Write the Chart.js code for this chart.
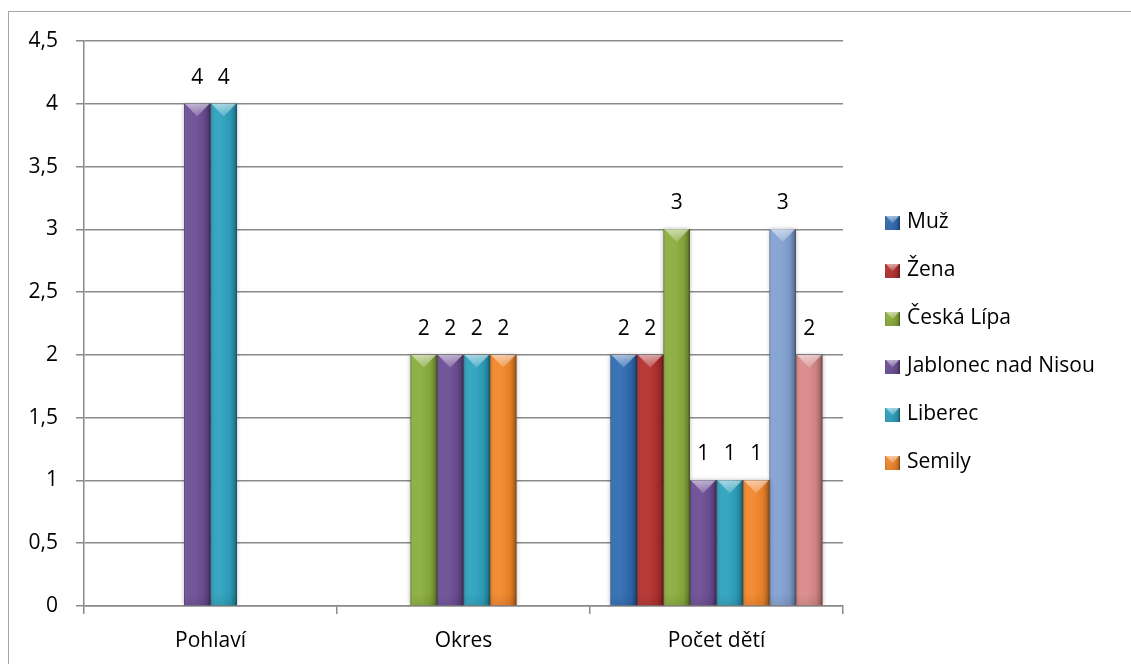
<!DOCTYPE html>
<html lang="cs">
<head>
<meta charset="utf-8">
<title>Graf</title>
<script src="https://cdn.jsdelivr.net/npm/chart.js@4.4.1/dist/chart.umd.min.js"></script>
<style>
  html, body { margin: 0; padding: 0; background: #ffffff; overflow: hidden; }
  #wrap { position: relative; width: 1131px; height: 664px; }
</style>
</head>
<body>
<div id="wrap"><canvas id="graf"></canvas></div>
<script>
// Kategorie na ose X
const kategorie = ['Pohlaví', 'Okres', 'Počet dětí'];

// Hodnoty jednotlivých řad (null = řada v kategorii nemá hodnotu)
const muz       = [null, null, 2];
const zena      = [null, null, 2];
const ceskaLipa = [null, 2, 3];
const jablonec  = [4, 2, 1];
const liberec   = [4, 2, 1];
const semily    = [null, 2, 1];
const rada7     = [null, null, 3];
const rada8     = [null, null, 2];

// Popisky řad v legendě (prázdný popisek se v legendě nezobrazí)
const nazvyRad = ['Muž', 'Žena', 'Česká Lípa', 'Jablonec nad Nisou', 'Liberec', 'Semily', '', ''];
const hodnotyRad = [muz, zena, ceskaLipa, jablonec, liberec, semily, rada7, rada8];
const barvyRad = ['#2f6cb2', '#b5302f', '#8aad3c', '#6d4e96', '#2da2bf', '#f2862a', '#82a1d2', '#d98a89'];

// Osa Y
const osaYMin = 0;
const osaYMax = 4.5;
const osaYKrok = 0.5;

const PISMO = '"Open Sans", "Noto Sans", sans-serif';
const VELIKOST = 21;
const SEDA = '#8a8a8a';

const formatCislo = v => String(v).replace('.', ',');

// Stínování sloupce: boční přechod, tmavší okraje a světlejší horní zkosení
function zkoseni(ctx, left, top, right, bottom) {
  const w = right - left;
  const h = bottom - top;
  if (w <= 0 || h <= 0) return;
  ctx.save();
  const g = ctx.createLinearGradient(left, 0, right, 0);
  g.addColorStop(0, 'rgba(0,0,0,0.35)');
  g.addColorStop(0.08, 'rgba(255,255,255,0.05)');
  g.addColorStop(0.4, 'rgba(255,255,255,0.05)');
  g.addColorStop(0.75, 'rgba(0,0,0,0.06)');
  g.addColorStop(0.9, 'rgba(0,0,0,0.22)');
  g.addColorStop(1, 'rgba(0,0,0,0.5)');
  ctx.fillStyle = g;
  ctx.fillRect(left, top, w, h);

  const d = Math.min(w * 0.48, h);
  const tg = ctx.createLinearGradient(0, top, 0, top + d);
  tg.addColorStop(0, 'rgba(255,255,255,0.55)');
  tg.addColorStop(1, 'rgba(255,255,255,0.18)');
  ctx.beginPath();
  ctx.moveTo(left + 1, top);
  ctx.lineTo(right - 1, top);
  ctx.lineTo(left + w / 2, top + d);
  ctx.closePath();
  ctx.fillStyle = tg;
  ctx.fill();

  const bg = ctx.createLinearGradient(0, bottom - 12, 0, bottom);
  bg.addColorStop(0, 'rgba(0,0,0,0)');
  bg.addColorStop(1, 'rgba(0,0,0,0.08)');
  ctx.fillStyle = bg;
  ctx.fillRect(left, bottom - 12, w, 12);
  ctx.restore();
}

// Rámeček kolem celého grafu
const ramecek = {
  id: 'ramecek',
  beforeDraw(chart) {
    const ctx = chart.ctx;
    ctx.save();
    ctx.strokeStyle = '#a6a6a6';
    ctx.lineWidth = 1;
    ctx.strokeRect(8.5, 11.5, chart.width + 20, chart.height + 20);
    ctx.restore();
  }
};

// Zkosení sloupců a popisky hodnot nad sloupci
const sloupce = {
  id: 'sloupce',
  beforeDatasetsDraw(chart) {
    const ctx = chart.ctx;
    ctx.save();
    ctx.shadowColor = 'rgba(0,0,0,0.28)';
    ctx.shadowBlur = 4;
  },
  afterDatasetsDraw(chart) {
    const ctx = chart.ctx;
    ctx.restore();
    chart.data.datasets.forEach((ds, i) => {
      const meta = chart.getDatasetMeta(i);
      meta.data.forEach((el, j) => {
        if (ds.data[j] === null || ds.data[j] === undefined) return;
        const half = el.width / 2;
        zkoseni(ctx, el.x - half, Math.min(el.y, el.base), el.x + half, Math.max(el.y, el.base));
      });
    });
    ctx.save();
    ctx.font = VELIKOST + 'px ' + PISMO;
    ctx.fillStyle = '#000000';
    ctx.textAlign = 'center';
    ctx.textBaseline = 'alphabetic';
    chart.data.datasets.forEach((ds, i) => {
      const meta = chart.getDatasetMeta(i);
      meta.data.forEach((el, j) => {
        const v = ds.data[j];
        if (v === null || v === undefined) return;
        ctx.fillText(formatCislo(v), el.x, el.y - 20);
      });
    });
    ctx.restore();
  }
};

// Legenda vpravo od grafu
const legenda = {
  id: 'legenda',
  afterDraw(chart) {
    const ctx = chart.ctx;
    const polozky = chart.data.datasets
      .map((ds, i) => ({ text: ds.label, barva: ds.backgroundColor, i }))
      .filter(p => p.text !== '');
    const krok = 48;
    const stred = 343;
    const y0 = stred - krok * (polozky.length - 1) / 2;
    const x0 = chart.chartArea.right + 42;
    ctx.save();
    ctx.font = VELIKOST + 'px ' + PISMO;
    ctx.textBaseline = 'middle';
    ctx.textAlign = 'left';
    polozky.forEach((p, k) => {
      const cy = y0 + k * krok;
      ctx.fillStyle = p.barva;
      ctx.fillRect(x0, cy - 7, 15, 14);
      zkoseni(ctx, x0, cy - 7, x0 + 15, cy + 7);
      ctx.fillStyle = '#000000';
      ctx.fillText(p.text, x0 + 22, cy - 0.5);
    });
    ctx.restore();
  }
};

const datasets = hodnotyRad.map((data, i) => ({
  label: nazvyRad[i],
  data: data,
  backgroundColor: barvyRad[i],
  borderWidth: 0,
  categoryPercentage: 0.838,
  barPercentage: 1
}));

new Chart(document.getElementById('graf'), {
  type: 'bar',
  data: { labels: kategorie, datasets: datasets },
  options: {
    responsive: true,
    maintainAspectRatio: false,
    animation: false,
    layout: { padding: { left: 0, top: 41, right: 288, bottom: 0 } },
    plugins: {
      legend: { display: false },
      tooltip: { enabled: false }
    },
    scales: {
      x: {
        grid: {
          offset: true,
          drawOnChartArea: false,
          drawTicks: true,
          tickLength: 8,
          color: SEDA,
          lineWidth: 1.5
        },
        border: { display: true, color: SEDA, width: 1.5 },
        ticks: {
          color: '#000000',
          font: { family: PISMO, size: VELIKOST },
          padding: 14,
          maxRotation: 0
        },
        afterFit(scale) { scale.height = 58; }
      },
      y: {
        min: osaYMin,
        max: osaYMax,
        grid: {
          drawOnChartArea: true,
          drawTicks: true,
          tickLength: 8,
          color: SEDA,
          lineWidth: 1.5
        },
        border: { display: true, color: SEDA, width: 1.5 },
        ticks: {
          stepSize: osaYKrok,
          color: '#000000',
          font: { family: PISMO, size: VELIKOST },
          padding: 18,
          callback: v => formatCislo(v)
        },
        afterFit(scale) { scale.width = 84; }
      }
    }
  },
  plugins: [ramecek, sloupce, legenda]
});
</script>
</body>
</html>
